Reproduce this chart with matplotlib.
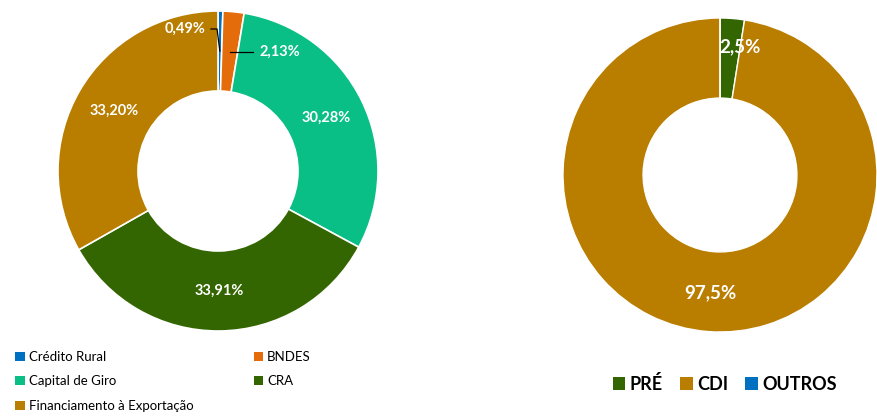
import matplotlib.pyplot as plt
import numpy as np
from matplotlib.patches import Patch

plt.rcParams['font.family'] = ['Lato', 'DejaVu Sans']

# left donut: modalidade
mod_labels = ["Crédito Rural", "BNDES", "Capital de Giro", "CRA", "Financiamento à Exportação"]
mod_values = [0.49, 2.13, 30.28, 33.91, 33.20]
mod_text = ["0,49%", "2,13%", "30,28%", "33,91%", "33,20%"]
mod_colors = ["#0070C0", "#E46C0A", "#0ABF85", "#336600", "#B97D00"]

# right donut: indexador
idx_labels = ["PRÉ", "CDI", "OUTROS"]
idx_values = [2.5, 97.5, 0.0]
idx_text = ["2,5%", "97,5%", ""]
idx_colors = ["#336600", "#B97D00", "#0070C0"]

fig = plt.figure(figsize=(8.77, 4.16), dpi=100)

ax1 = fig.add_axes([58 / 877, 85 / 416, 320 / 877, 320 / 416])
wedges1, _ = ax1.pie(mod_values, colors=mod_colors, startangle=90, counterclock=False,
                     radius=1, wedgeprops=dict(width=0.5, edgecolor="white", linewidth=1.2))
ax1.set_xlim(-1, 1)
ax1.set_ylim(-1, 1)
ax1.set_aspect("equal")
ax1.axis("off")

lab_kw = dict(color="white", fontsize=10.5, fontweight="bold", va="center")
for i, (w, t) in enumerate(zip(wedges1, mod_text)):
    ang = np.deg2rad((w.theta1 + w.theta2) / 2)
    px, py = 0.75 * np.cos(ang), 0.75 * np.sin(ang)
    if i == 0:
        # small slice: label up-left with leader line
        ax1.plot([-0.044, -0.006, px], [0.8875, 0.8875, py], color="black", lw=0.9)
        ax1.text(-0.08, 0.8875, t, ha="right", **lab_kw)
    elif i == 1:
        ax1.plot([px, 0.22], [py, py], color="black", lw=0.9)
        ax1.text(0.26, py, t, ha="left", **lab_kw)
    else:
        ax1.text(px, py, t, ha="center", **lab_kw)

ax2 = fig.add_axes([563 / 877, 84 / 416, 314 / 877, 314 / 416])
wedges2, _ = ax2.pie(idx_values, colors=idx_colors, startangle=90, counterclock=False,
                     radius=1, wedgeprops=dict(width=0.51, edgecolor="white", linewidth=1.0))
ax2.set_xlim(-1, 1)
ax2.set_ylim(-1, 1)
ax2.set_aspect("equal")
ax2.axis("off")
lab2_kw = dict(color="white", fontsize=13.5, fontweight="bold", va="center", ha="center")
ax2.text(0.127, 0.82, idx_text[0], **lab2_kw)
ang = np.deg2rad((wedges2[1].theta1 + wedges2[1].theta2) / 2)
ax2.text(0.75 * np.cos(ang), 0.75 * np.sin(ang), idx_text[1], **lab2_kw)

# legend filled row by row like the original
order = [0, 2, 4, 1, 3]
h1 = [Patch(facecolor=mod_colors[i]) for i in order]
leg1 = fig.legend(h1, [mod_labels[i] for i in order], loc="upper left",
                  bbox_to_anchor=(0.004, 0.185), ncol=2,
                  frameon=False, fontsize=9.5, handlelength=0.7, handleheight=0.7,
                  handletextpad=0.3, labelspacing=0.95, columnspacing=4.6)

h2 = [Patch(facecolor=c) for c in idx_colors]
leg2 = fig.legend(h2, idx_labels, loc="center left", bbox_to_anchor=(0.68, 0.078), ncol=3,
                  frameon=False, prop=dict(size=13, weight="bold"), handlelength=0.7,
                  handleheight=0.7, handletextpad=0.25, columnspacing=0.95)

fig.savefig("out.png", dpi=100)
